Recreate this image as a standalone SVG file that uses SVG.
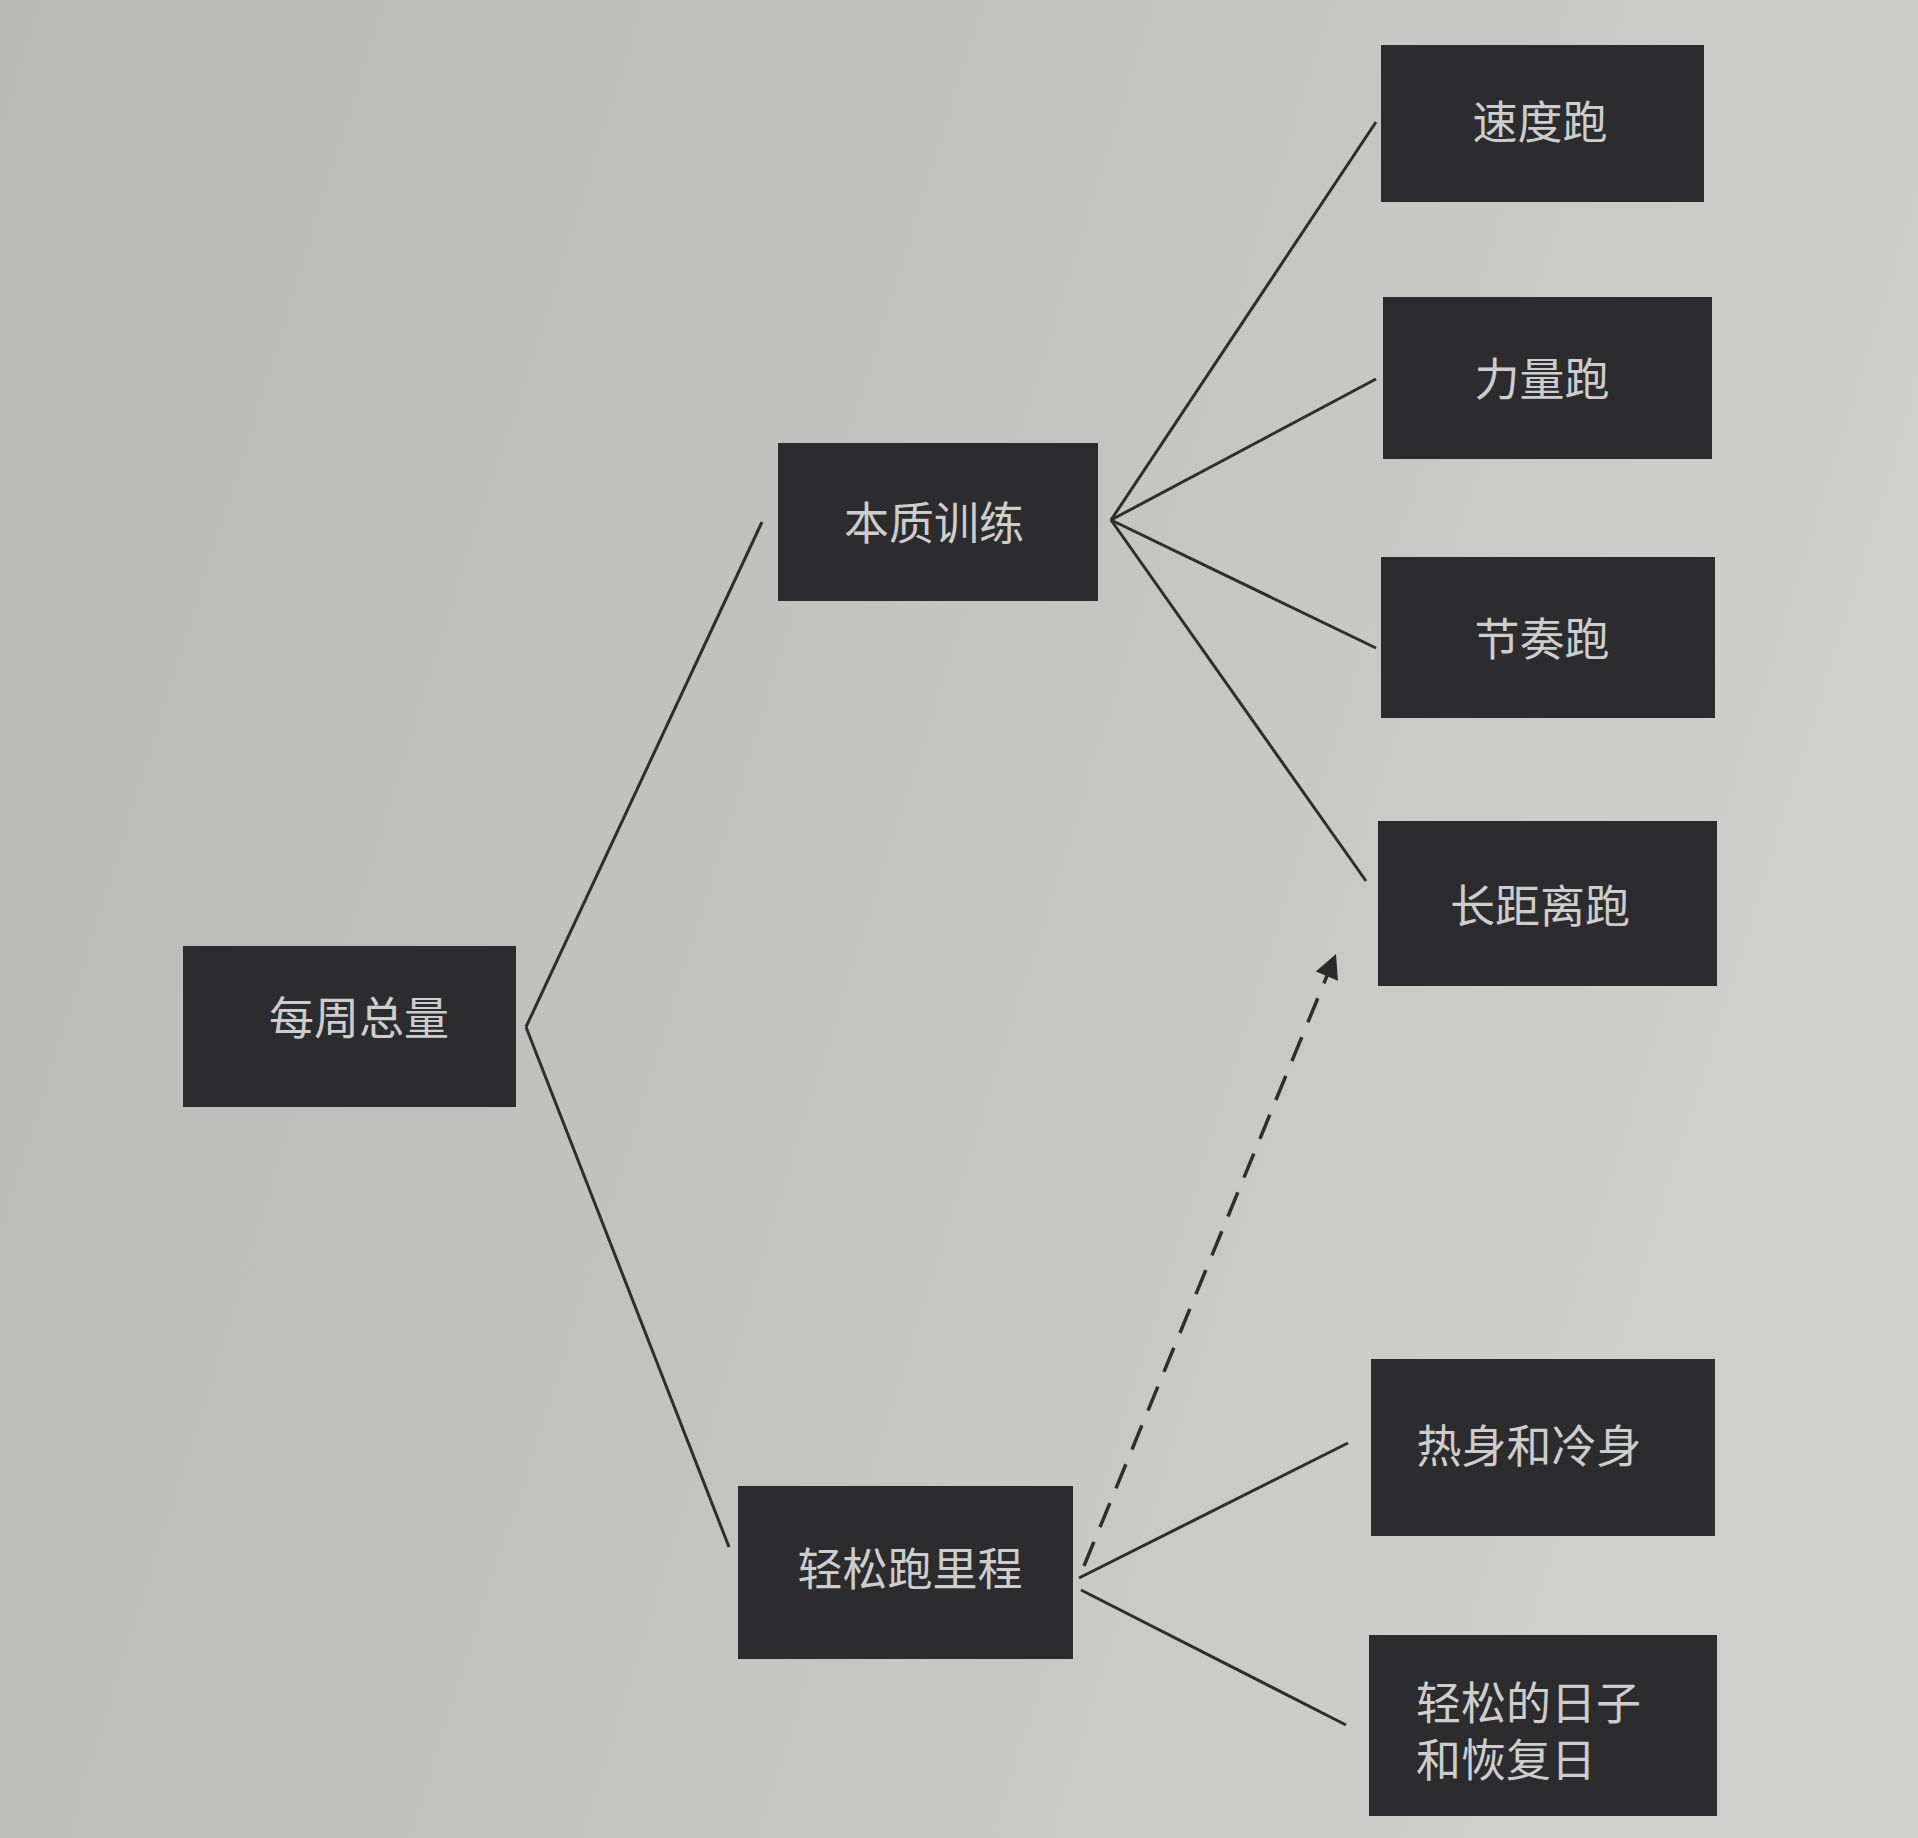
<svg xmlns="http://www.w3.org/2000/svg" width="1918" height="1838" viewBox="0 0 1918 1838">
<defs>
<linearGradient id="bg" x1="0" y1="0" x2="1" y2="0.3">
<stop offset="0" stop-color="#b9b9b7"/>
<stop offset="0.55" stop-color="#c3c3c1"/>
<stop offset="1" stop-color="#cfcfcd"/>
</linearGradient>
<marker id="arr" viewBox="0 0 10 10" refX="9" refY="5" markerWidth="9" markerHeight="9" markerUnits="userSpaceOnUse" orient="auto">
<path d="M0,0 L10,5 L0,10 z" fill="#2a2a2a"/>
</marker>
<marker id="arrow" viewBox="0 0 10 10" refX="10" refY="5" markerWidth="28" markerHeight="24" markerUnits="userSpaceOnUse" orient="auto">
<path d="M0,0 L10,5 L0,10 z" fill="#2a2a2a"/>
</marker>
</defs>
<style>
.box{fill:#2c2c2e}
.lbl{font-family:"Noto Sans CJK SC","Noto Sans CJK JP",sans-serif;font-size:45px;fill:#cdcdcd;text-anchor:middle;dominant-baseline:central}
.lbl2{font-family:"Noto Sans CJK SC","Noto Sans CJK JP",sans-serif;font-size:45px;fill:#cdcdcd}
.ln{stroke:#2e2e2e;stroke-width:3;fill:none}
.dash{stroke:#2e2e2e;stroke-width:3.5;fill:none;stroke-dasharray:26 16}
</style>
<rect x="0" y="0" width="1918" height="1838" fill="url(#bg)"/>
<g id="connectors">
<line class="ln" x1="526" y1="1027" x2="762" y2="522"/>
<line class="ln" x1="526" y1="1027" x2="729" y2="1547"/>
<line class="ln" x1="1111" y1="520" x2="1376" y2="122"/>
<line class="ln" x1="1111" y1="520" x2="1376" y2="379"/>
<line class="ln" x1="1111" y1="520" x2="1376" y2="648"/>
<line class="ln" x1="1111" y1="520" x2="1366" y2="881"/>
<line class="ln" x1="1079" y1="1578" x2="1348" y2="1443"/>
<line class="ln" x1="1081" y1="1590" x2="1346" y2="1725"/>
<line class="dash" x1="1084" y1="1566" x2="1336" y2="954" marker-end="url(#arrow)"/>
</g>
<g id="n_weekly">
<rect class="box" x="183" y="946" width="333" height="161"/>
<text class="lbl" x="359" y="1015">每周总量</text>
</g>
<g id="n_quality">
<rect class="box" x="778" y="443" width="320" height="158"/>
<text class="lbl" x="934" y="520">本质训练</text>
</g>
<g id="n_speed">
<rect class="box" x="1381" y="45" width="323" height="157"/>
<text class="lbl" x="1540" y="119">速度跑</text>
</g>
<g id="n_strength">
<rect class="box" x="1383" y="297" width="329" height="162"/>
<text class="lbl" x="1542" y="376">力量跑</text>
</g>
<g id="n_tempo">
<rect class="box" x="1381" y="557" width="334" height="161"/>
<text class="lbl" x="1542" y="636">节奏跑</text>
</g>
<g id="n_long">
<rect class="box" x="1378" y="821" width="339" height="165"/>
<text class="lbl" x="1540" y="903">长距离跑</text>
</g>
<g id="n_easy">
<rect class="box" x="738" y="1486" width="335" height="173"/>
<text class="lbl" x="910" y="1566">轻松跑里程</text>
</g>
<g id="n_warm">
<rect class="box" x="1371" y="1359" width="344" height="177"/>
<text class="lbl" x="1529" y="1443">热身和冷身</text>
</g>
<g id="n_rest">
<rect class="box" x="1369" y="1635" width="348" height="181"/>
<text class="lbl2" x="1416" y="1720">轻松的日子</text>
<text class="lbl2" x="1416" y="1777">和恢复日</text>
</g>
</svg>
